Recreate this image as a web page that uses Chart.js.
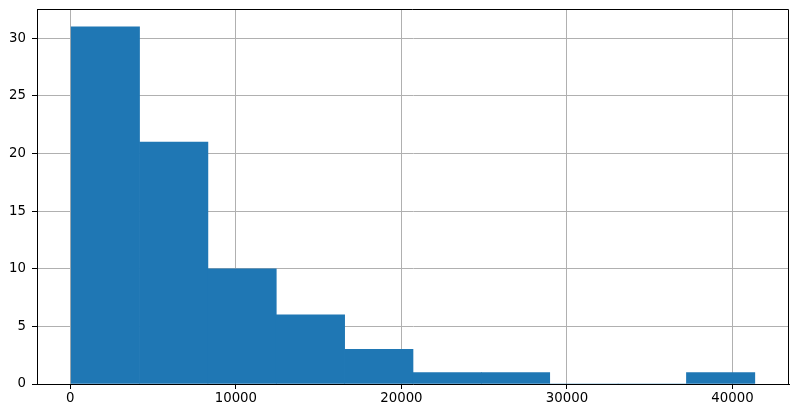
<!DOCTYPE html>
<html>
<head>
<meta charset="utf-8">
<script src="https://cdn.jsdelivr.net/npm/chart.js@4/dist/chart.umd.min.js"></script>
<style>
  html, body { margin: 0; padding: 0; background: #fff; }
  #wrap { width: 799px; height: 417px; }
</style>
</head>
<body>
<div id="wrap"><canvas id="myChart" width="799" height="417"></canvas></div>
<script>
// histogram bins
const binEdges = [50, 4180, 8310, 12440, 16570, 20700, 24830, 28960, 33090, 37220, 41350];
const counts = [31, 21, 10, 6, 3, 1, 1, 0, 0, 1];
const xTicks = [0, 10000, 20000, 30000, 40000];
const yTicks = [0, 5, 10, 15, 20, 25, 30];

function createChart() {
    const points = counts.map((c, i) => ({ x: (binEdges[i] + binEdges[i + 1]) / 2, y: c }));
    const span = binEdges[binEdges.length - 1] - binEdges[0];

    // top and right sides of the axes box (left/bottom come from the scales)
    const frame = {
        id: 'frame',
        afterDraw(chart) {
            const a = chart.chartArea;
            const ctx = chart.ctx;
            ctx.save();
            ctx.strokeStyle = '#000';
            ctx.lineWidth = 1;
            ctx.beginPath();
            ctx.moveTo(a.left, Math.round(a.top) + 0.5);
            ctx.lineTo(Math.round(a.right) - 0.5, Math.round(a.top) + 0.5);
            ctx.lineTo(Math.round(a.right) - 0.5, a.bottom);
            ctx.stroke();
            ctx.restore();
        }
    };

    const tickFont = { family: 'DejaVu Sans', size: 13.3 };

    const ctx = document.getElementById('myChart').getContext('2d');
    new Chart(ctx, {
        type: 'bar',
        data: {
            datasets: [{
                data: points,
                backgroundColor: '#1f77b4',
                borderWidth: 0,
                barPercentage: 1,
                categoryPercentage: 1
            }]
        },
        options: {
            responsive: false,
            animation: false,
            devicePixelRatio: 1,
            layout: { padding: { top: 9, right: 10, left: 0, bottom: 0 } },
            plugins: {
                legend: { display: false },
                tooltip: { enabled: false }
            },
            scales: {
                x: {
                    type: 'linear',
                    offset: false,
                    min: binEdges[0] - span * 0.05,
                    max: binEdges[binEdges.length - 1] + span * 0.05,
                    z: 1,
                    afterBuildTicks: (s) => { s.ticks = xTicks.map(v => ({ value: v })); },
                    afterFit: (s) => { s.height = 33; },
                    ticks: { color: '#000', font: tickFont, padding: 2, maxRotation: 0,
                             callback: (v) => String(v) },
                    grid: { offset: false, color: '#b0b0b0', lineWidth: 1, tickColor: '#000', tickLength: 5 },
                    border: { color: '#000', width: 1 }
                },
                y: {
                    min: 0,
                    max: Math.max(...counts) * 1.05,
                    z: 1,
                    afterBuildTicks: (s) => { s.ticks = yTicks.map(v => ({ value: v })); },
                    afterFit: (s) => { s.width = 37; s.paddingTop = 0; s.paddingBottom = 0; },
                    ticks: { color: '#000', font: tickFont, padding: 6 },
                    grid: { color: '#b0b0b0', lineWidth: 1, tickColor: '#000', tickLength: 5 },
                    border: { color: '#000', width: 1 }
                }
            }
        },
        plugins: [frame]
    });
}
createChart();
</script>
</body>
</html>
